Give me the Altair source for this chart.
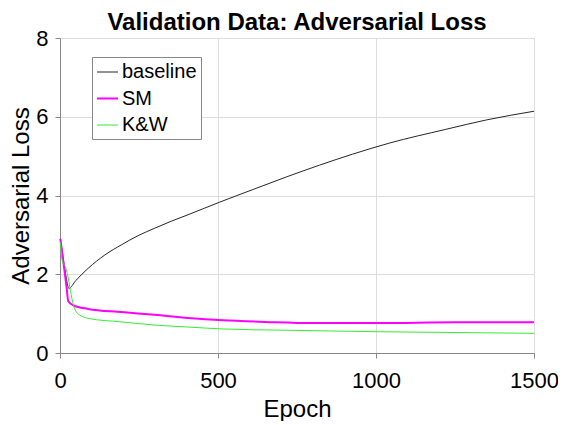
import altair as alt
import pandas as pd

# Epoch positions and values
epochs_baseline = [1, 10, 20, 28, 50, 89, 142, 195, 247, 300, 353, 405, 458, 505,
                   610, 716, 821, 926, 1042, 1221, 1350, 1500]
baseline = [2.90, 2.40, 1.90, 1.64, 1.84, 2.15, 2.49, 2.75, 2.98, 3.17, 3.35, 3.51,
            3.68, 3.83, 4.15, 4.47, 4.77, 5.05, 5.33, 5.68, 5.92, 6.14]

epochs_sm = [1, 10, 21, 26, 42, 89, 195, 300, 405, 516, 650, 800, 1010, 1250, 1500]
sm = [2.90, 2.36, 1.66, 1.32, 1.21, 1.12, 1.04, 0.97, 0.89, 0.83, 0.79, 0.76, 0.76,
      0.78, 0.78]

epochs_kw = [1, 7, 18, 26, 35, 42, 50, 68, 89, 195, 300, 405, 516, 700, 850, 1010,
             1250, 1500]
kw = [2.81, 2.34, 2.17, 1.91, 1.49, 1.24, 1.06, 0.94, 0.88, 0.79, 0.71, 0.66, 0.61,
      0.58, 0.56, 0.54, 0.52, 0.50]

series_names = ["baseline", "SM", "K&W"]
series_colors = ["#262626", "#ff00ff", "#33ee33"]
series_widths = [1, 2, 1]

rows = []
for name, xs, ys in [("baseline", epochs_baseline, baseline),
                     ("SM", epochs_sm, sm),
                     ("K&W", epochs_kw, kw)]:
    for e, v in zip(xs, ys):
        rows.append({"Epoch": e, "Loss": v, "Series": name})
df = pd.DataFrame(rows)

font = "Liberation Sans"

legend = alt.Legend(orient="none", legendX=32, legendY=19,
                    title=None, labelFontSize=20,
                    symbolType="stroke", symbolSize=441,
                    rowPadding=5, labelOffset=3, padding=4,
                    strokeColor="#888888", fillColor="white",
                    labelFont=font, labelColor="#000000")

chart = alt.Chart(df).mark_line(interpolate="monotone").encode(
    x=alt.X("Epoch:Q",
            scale=alt.Scale(domain=[0, 1500], nice=False),
            axis=alt.Axis(values=[0, 500, 1000, 1500], title="Epoch", format="d",
                          labelFontSize=22, titleFontSize=24, labelPadding=12,
                          titlePadding=6, labelFlush=False,
                          titleFontWeight="normal")),
    y=alt.Y("Loss:Q",
            scale=alt.Scale(domain=[0, 8], nice=False),
            axis=alt.Axis(values=[0, 2, 4, 6, 8], title="Adversarial Loss",
                          format="d",
                          labelFontSize=22, titleFontSize=24, labelPadding=7,
                          titlePadding=2, labelFlush=False,
                          titleFontWeight="normal")),
    color=alt.Color("Series:N",
                    scale=alt.Scale(domain=series_names, range=series_colors),
                    legend=legend),
    strokeWidth=alt.StrokeWidth("Series:N",
                                scale=alt.Scale(type="ordinal",
                                                domain=series_names,
                                                range=series_widths),
                                legend=legend),
    order=alt.Order("Epoch:Q"),
).properties(
    width=474,
    height=315,
    title=alt.Title("Validation Data: Adversarial Loss", fontSize=24,
                    fontWeight="bold", font=font, color="#000000", offset=-8),
    autosize=alt.AutoSizeParams(type="none"),
    padding={"left": 52, "top": 30, "right": 24, "bottom": 68},
).configure_axis(
    labelFont=font, titleFont=font, labelColor="#262626", titleColor="#262626",
    titleFontWeight="normal", grid=True, gridColor="#e3e3e3", gridWidth=1,
    domainColor="#555555", domainWidth=1, tickSize=0,
).configure_view(
    stroke=None,
).configure(background="white")

chart.save("out.html", embed_options={"renderer": "svg", "actions": False})
